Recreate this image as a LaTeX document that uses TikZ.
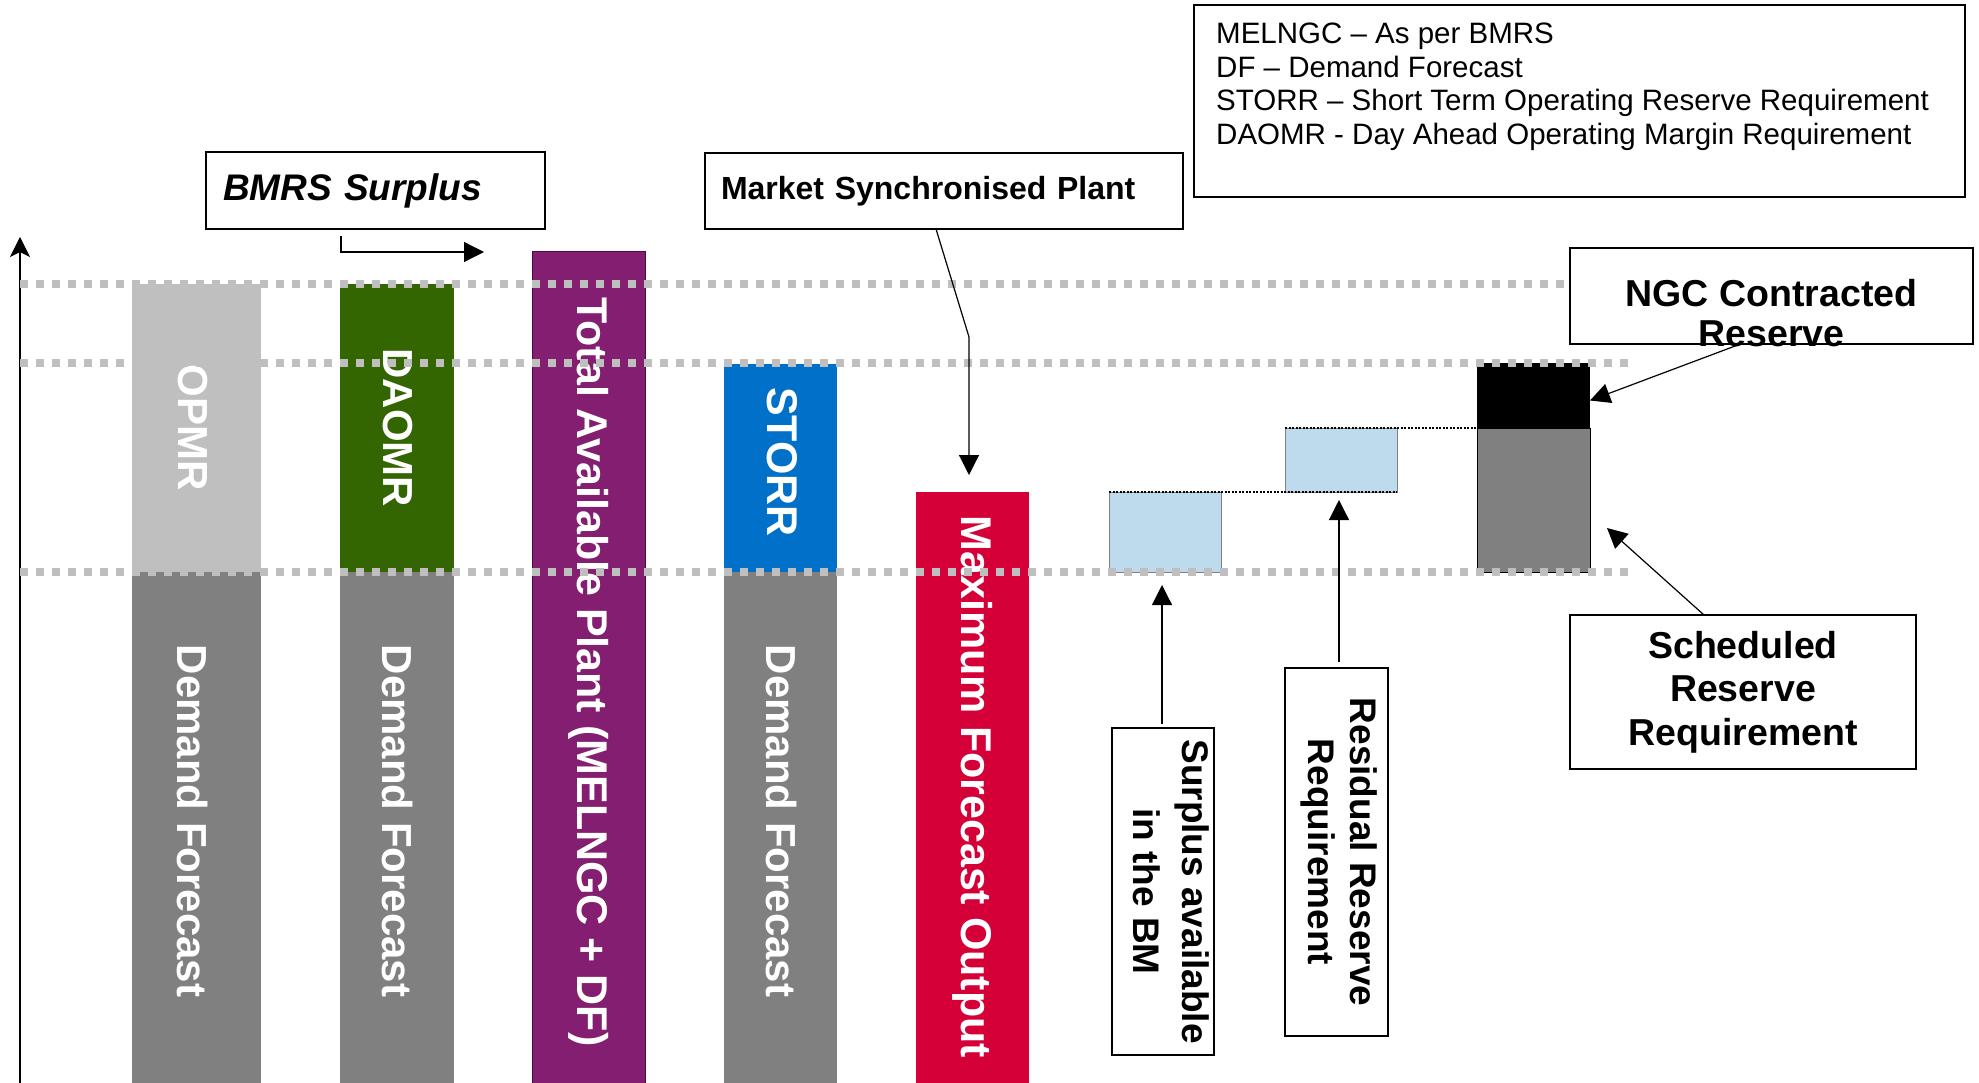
\documentclass[tikz,border=0pt]{standalone}
\usepackage{fontspec}
\setmainfont{Liberation Sans}
\usetikzlibrary{arrows.meta}
\definecolor{lgray}{RGB}{191,191,191}
\definecolor{dgray}{RGB}{128,128,128}
\definecolor{dgreen}{RGB}{51,102,0}
\definecolor{purp}{RGB}{132,30,112}
\definecolor{purpdark}{RGB}{80,10,65}
\definecolor{sblue}{RGB}{0,112,200}
\definecolor{crim}{RGB}{213,0,55}
\definecolor{lblue}{RGB}{190,219,237}
\begin{document}
\begin{tikzpicture}[x=1pt,y=-1pt,
  blk/.style={rectangle, inner sep=0pt, outer sep=0pt, anchor=north west, draw=none},
  barlabel/.style={rotate=-90, text=white, font=\fontsize{42}{48}\selectfont\bfseries, inner sep=0pt},
  barlabelb/.style={rotate=-90, text=white, font=\fontsize{43}{48}\selectfont\bfseries, inner sep=0pt},
  boxlabel/.style={rotate=-90, align=center, font=\fontsize{37}{49}\selectfont\bfseries, inner sep=0pt},
  callout/.style={draw=black, line width=1.3pt, rectangle, inner sep=0pt, outer sep=0pt},
  conn/.style={draw=black, line width=1.2pt},
  tri/.style={-{Triangle[length=20pt,width=20pt]}},
  guide/.style={draw=lgray, line width=8pt, dash pattern=on 8pt off 8pt},
  finedot/.style={draw=black, line width=2pt, dash pattern=on 2pt off 1.5pt},
]
\useasboundingbox (0,0) rectangle (1979,1083);

% ---- bars ----
\node[blk, fill=lgray, minimum width=129, minimum height=288] (opmrU) at (132,284) {};
\node[blk, fill=dgray, minimum width=129, minimum height=511] (opmrL) at (132,572) {};
\node[blk, fill=dgreen, minimum width=114, minimum height=288] (daomrU) at (340,284) {};
\node[blk, fill=dgray, minimum width=114, minimum height=511] (daomrL) at (340,572) {};
\node[blk, fill=purp, draw=purpdark, line width=1pt, minimum width=113, minimum height=840] (tap) at (532,252) {};
\node[blk, fill=sblue, minimum width=113, minimum height=208] (storrU) at (724,364) {};
\node[blk, fill=dgray, minimum width=113, minimum height=511] (storrL) at (724,572) {};
\node[blk, fill=crim, minimum width=113, minimum height=600] (mfo) at (916,492) {};
\node[blk, fill=lblue, draw=dgray, line width=1pt, minimum width=112, minimum height=80] (sur) at (1109,492) {};
\node[blk, fill=lblue, draw=dgray, line width=1pt, minimum width=112, minimum height=64] (res) at (1285,428) {};
\node[blk, fill=black, minimum width=113, minimum height=65] (ngcb) at (1477,363) {};
\node[blk, fill=dgray, draw=black, line width=1pt, minimum width=113, minimum height=144] (srr) at (1477,428) {};

% ---- bar labels ----
\node[barlabel] (lopmr) at (192.5,428) {OPMR};
\node[barlabel] (ldf1) at (192.5,821) {Demand Forecast};
\node[barlabel] (ldaomr) at (398,428) {DAOMR};
\node[barlabel] (ldf2) at (398,821) {Demand Forecast};
\node[barlabelb] (ltap) at (588.5,672) {Total Available Plant (MELNGC + DF)};
\node[barlabelb] (lstorr) at (782,462) {STORR};
\node[barlabel] (ldf3) at (782,821) {Demand Forecast};
\node[barlabelb] (lmfo) at (972.5,787) {Maximum Forecast Output};

% ---- axis ----
\coordinate (axbot) at (20,1083);
\coordinate (axtop) at (20,237);
\draw[line width=1.1pt, -{Stealth[length=20pt,width=20pt,inset=5pt]}] (axbot) -- (axtop);

% ---- guide lines ----
\draw[guide] (20,284) -- (1565,284);
\draw[guide] (20,363) -- (1629,363);
\draw[guide] (20,572) -- (1629,572);

% ---- fine dotted lines ----
\draw[finedot] (sur.north west) -- (res.south east);
\draw[finedot] (res.north west) -- (ngcb.south west);

% ---- callout boxes ----
\node[callout, minimum width=339, minimum height=77, text width=305, inner xsep=17pt, align=left,
      font=\fontsize{37}{40}\selectfont\bfseries\itshape] (bmrs) at (375.5,190.5) {BMRS Surplus};
\node[callout, minimum width=478, minimum height=76, text width=446, inner xsep=16pt, align=left,
      font=\fontsize{32}{36}\selectfont\bfseries] (msp) at (944,191) {Market Synchronised Plant};
\node[callout, line width=2pt, minimum width=771, minimum height=192] (legend) at (1579.5,101) {};
\node[anchor=north west, align=left, inner sep=0pt, font=\fontsize{29.5}{33.5}\selectfont] (legtxt) at (1216,23)
  {MELNGC – As per BMRS\\DF – Demand Forecast\\STORR – Short Term Operating Reserve Requirement\\DAOMR - Day Ahead Operating Margin Requirement};
\node[callout, minimum width=403, minimum height=96] (ngc) at (1771.5,296) {};
\node[align=center, inner sep=0pt, font=\fontsize{37.5}{40}\selectfont\bfseries] (ngctxt) at (1771.5,313) {NGC Contracted\\Reserve};
\node[callout, minimum width=346, minimum height=154, align=center,
      font=\fontsize{37.5}{43.5}\selectfont\bfseries] (sched) at (1743,692) {Scheduled\\Reserve\\Requirement};
\node[callout, minimum width=102, minimum height=327] (sab) at (1163,891.5) {};
\node[boxlabel] (sabtxt) at ([xshift=8pt]sab.center) {Surplus available\\in the BM};
\node[callout, minimum width=103, minimum height=368] (rrr) at (1336.5,852) {};
\node[boxlabel, font=\fontsize{37}{42}\selectfont\bfseries] (rrrtxt) at ([xshift=3pt]rrr.center) {Residual Reserve\\Requirement};

% ---- connectors ----
\coordinate (bmrsend) at (484,252);
\draw[conn, tri] ([xshift=-34.5pt,yshift=-7pt]bmrs.south) |- (bmrsend);
\coordinate (mspbend) at (969,337);
\draw[conn, tri] ([xshift=-8pt]msp.south) -- (mspbend) -- ([xshift=-3.5pt,yshift=17pt]mfo.north);
\draw[conn, tri] ([xshift=-31pt]ngc.south) -- ([yshift=-5pt]ngcb.east);
\draw[conn, tri] ([xshift=-39pt]sched.north) -- ([xshift=17pt,yshift=-28pt]srr.east);
\draw[conn, tri] ([xshift=-1pt,yshift=4pt]sab.north) -- ([xshift=-3pt,yshift=-13pt]sur.south);
\draw[conn, tri] ([xshift=2.5pt,yshift=6pt]rrr.north) -- ([xshift=-2pt,yshift=-8pt]res.south);
\end{tikzpicture}
\end{document}
